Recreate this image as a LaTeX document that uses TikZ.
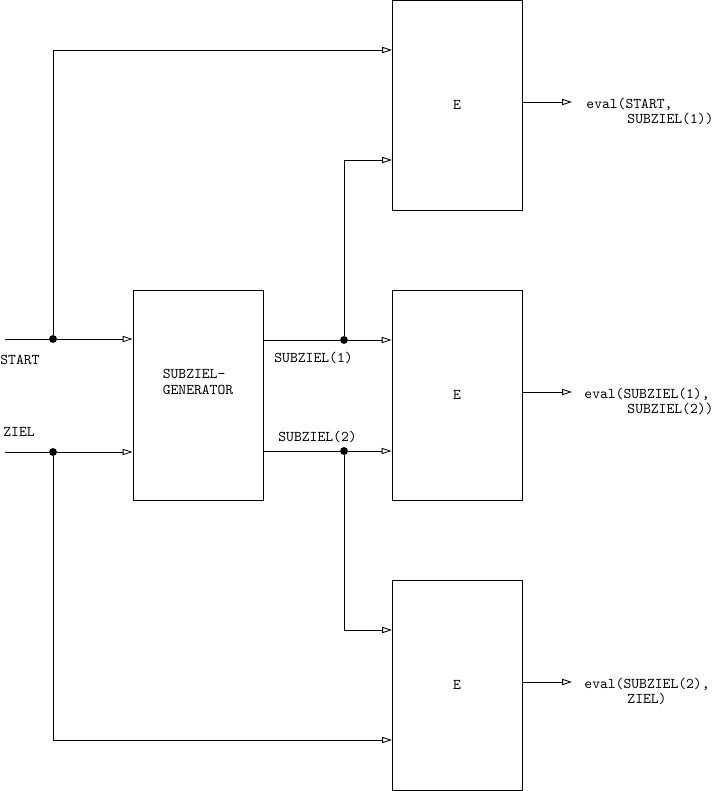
\documentclass[tikz,border=0pt]{standalone}
\usetikzlibrary{arrows.meta}
\begin{document}
\begin{tikzpicture}[x=0.025cm,y=-0.025cm,line width=0.6pt,
    every node/.style={font=\ttfamily\fontsize{10.6}{12}\selectfont},
    block/.style={draw,minimum width=3.25cm,minimum height=5.25cm,inner sep=0pt},
    dot/.style={circle,fill,inner sep=0pt,minimum size=5.6pt},
    txt/.style={inner sep=0pt,anchor=west},
    arr/.style={-{Triangle[open,length=7pt,width=4.4pt]}}]
    \useasboundingbox (0,0) rectangle (716,791);
    % bloecke
    \node[block] (gen) at (198,395) {};
    \node[align=left] (gentxt) at (198,382) {SUBZIEL-\\GENERATOR};
    \node[block] (e1) at (457,105) {E};
    \node[block] (e2) at (457,395) {E};
    \node[block] (e3) at (457,685) {E};
    % eingaenge
    \coordinate (sin) at (5,339);
    \coordinate (zin) at (5,452);
    \node[txt] (start) at (0,360) {START};
    \node[txt] (ziel) at (3,432) {ZIEL};
    \node[dot] (j1) at (53,339) {};
    \node[dot] (j2) at (53,452) {};
    \node[dot] (j3) at (344,340) {};
    \node[dot] (j4) at (344,451) {};
    \coordinate (e1a) at (392,50);
    \coordinate (e1b) at (392,160);
    \coordinate (e3a) at (392,630);
    \coordinate (e3b) at (392,740);
    \draw[arr] (sin) -- (j1) -- (gen.west |- j1);
    \draw[arr] (zin) -- (j2) -- (gen.west |- j2);
    \draw[arr] (j1) |- (e1a);
    \draw[arr] (j2) |- (e3b);
    % zwischenziele
    \draw[arr] (gen.east |- j3) -- (j3) -- (e2.west |- j3);
    \draw[arr] (gen.east |- j4) -- (j4) -- (e2.west |- j4);
    \draw[arr] (j3) |- (e1b);
    \draw[arr] (j4) |- (e3a);
    \node[txt] (sz1) at (274,358) {SUBZIEL(1)};
    \node[txt] (sz2) at (278,437) {SUBZIEL(2)};
    % ausgaenge
    \coordinate (o1) at (572,102);
    \coordinate (o2) at (572,392);
    \coordinate (o3) at (572,682);
    \draw[arr] (e1.east |- o1) -- (o1);
    \draw[arr] (e2.east |- o2) -- (o2);
    \draw[arr] (e3.east |- o3) -- (o3);
    \node[txt] (ev1) at (586,104) {eval(START,};
    \node[txt] (ev1b) at (627,119) {SUBZIEL(1))};
    \node[txt] (ev2) at (584,394) {eval(SUBZIEL(1),};
    \node[txt] (ev2b) at (627,409) {SUBZIEL(2))};
    \node[txt] (ev3) at (584,684) {eval(SUBZIEL(2),};
    \node[txt] (ev3b) at (627,699) {ZIEL)};
\end{tikzpicture}
\end{document}
